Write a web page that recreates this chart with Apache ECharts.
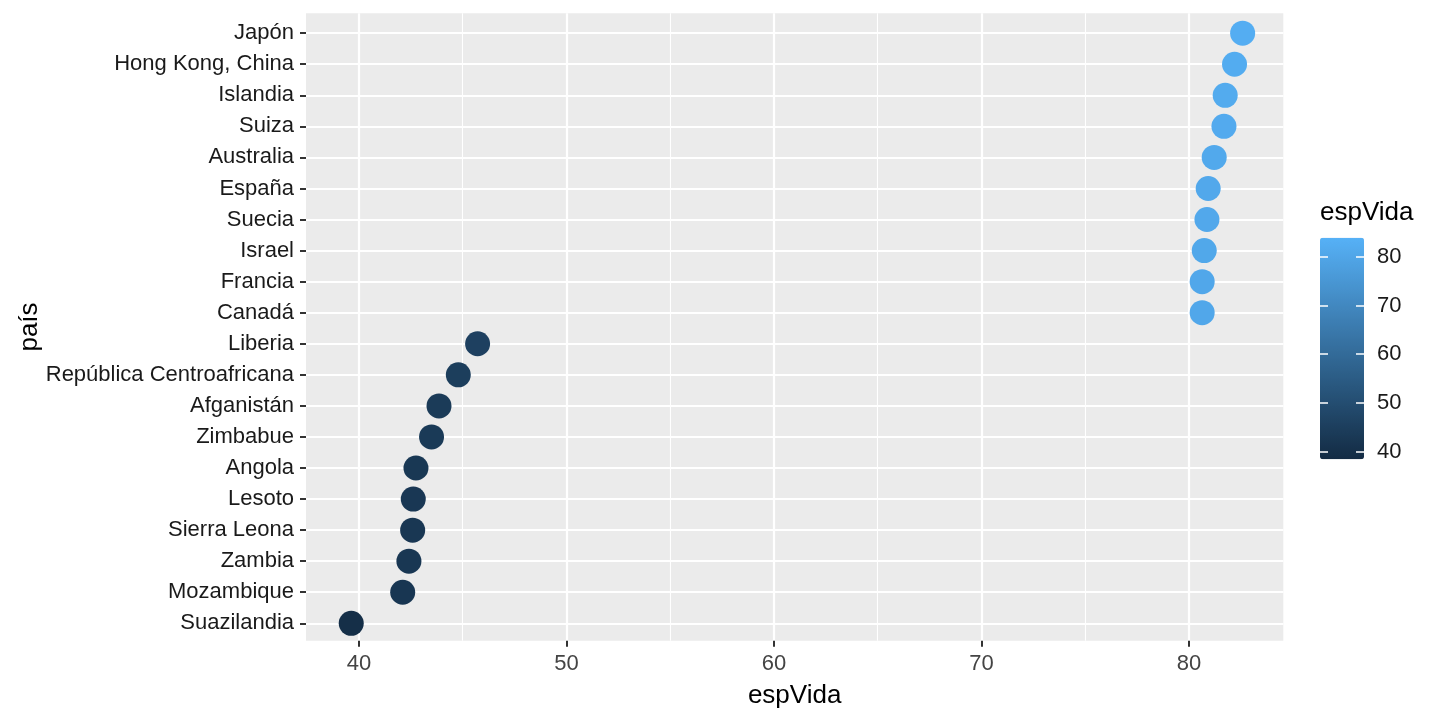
<!DOCTYPE html>
<html>
<head>
<meta charset="utf-8">
<script src="https://cdn.jsdelivr.net/npm/echarts@6/dist/echarts.min.js"></script>
<style>
html,body{margin:0;padding:0;background:#fff;}
#c{width:1440px;height:720px;}
</style>
</head>
<body>
<div id="c"></div>
<script>
// Countries from bottom to top
const countries = ['Suazilandia','Mozambique','Zambia','Sierra Leona','Lesoto','Angola','Zimbabue','Afganistán','República Centroafricana','Liberia','Canadá','Francia','Israel','Suecia','España','Australia','Suiza','Islandia','Hong Kong, China','Japón'];
const espVida = [39.63,42.11,42.41,42.59,42.62,42.75,43.50,43.86,44.79,45.72,80.64,80.64,80.74,80.87,80.93,81.22,81.69,81.75,82.20,82.59];
const xMajorTicks = [40,50,60,70,80];
const xMinorTicks = [45,55,65,75];
const legendTicks = [40,50,60,70,80];

const yIdx = countries.map((_, i) => i);
const FONT = '"Liberation Sans", Arial, Helvetica, sans-serif';

const chart = echarts.init(document.getElementById('c'));
chart.setOption({
  backgroundColor: '#ffffff',
  animation: false,
  textStyle: { fontFamily: FONT },
  title: {
    text: 'espVida',
    left: 1320, top: 200, padding: 0,
    textStyle: { fontSize: 26, fontWeight: 'normal', color: '#000', fontFamily: FONT }
  },
  grid: [
    { left: 306, top: 13.3, width: 977.3, height: 627.4, show: true, backgroundColor: '#EBEBEB', borderWidth: 0, containLabel: false },
    { left: 1320, top: 237.7, width: 44, height: 221.6, show: false, containLabel: false }
  ],
  xAxis: [
    {
      gridIndex: 0, type: 'value', min: 37.45, max: 84.55, position: 'top',
      axisLine: { show: false, onZero: false },
      axisTick: { show: false, customValues: xMinorTicks },
      axisLabel: { show: false, customValues: xMinorTicks },
      splitLine: { show: true, lineStyle: { color: '#ffffff', width: 1.1 } }
    },
    {
      gridIndex: 0, type: 'value', min: 37.45, max: 84.55, position: 'bottom',
      name: 'espVida', nameLocation: 'middle', nameGap: 42,
      nameTextStyle: { fontSize: 26, color: '#000', fontFamily: FONT },
      axisLine: { show: true, onZero: false, lineStyle: { color: 'rgba(0,0,0,0)', width: 0 } },
      axisTick: { show: true, inside: false, length: 6, lineStyle: { color: '#333', width: 2 }, customValues: xMajorTicks },
      axisLabel: { fontSize: 22, color: '#444', margin: 12, customValues: xMajorTicks, fontFamily: FONT },
      splitLine: { show: true, lineStyle: { color: '#ffffff', width: 2.2 } }
    },
    { gridIndex: 1, type: 'value', min: 0, max: 1, show: false, axisLine: { onZero: false } }
  ],
  yAxis: [
    {
      gridIndex: 0, type: 'value', min: -0.56, max: 19.64, position: 'left',
      name: 'país', nameLocation: 'middle', nameGap: 263, nameRotate: 90, nameMoveOverlap: false,
      nameTextStyle: { fontSize: 26, color: '#000', fontFamily: FONT },
      axisLine: { show: false, onZero: false },
      axisTick: { show: true, length: 6, lineStyle: { color: '#333', width: 2 }, customValues: yIdx },
      axisLabel: {
        fontSize: 22, color: '#1a1a1a', margin: 12, customValues: yIdx, fontFamily: FONT,
        formatter: v => countries[Math.round(v)]
      },
      splitLine: { show: true, lineStyle: { color: '#ffffff', width: 2.2 } }
    },
    {
      gridIndex: 1, type: 'value', min: 38.44, max: 83.9, position: 'right', z: 10,
      axisLine: { show: false, onZero: false },
      axisTick: { show: true, inside: true, length: 8, lineStyle: { color: '#ffffff', width: 1.5 }, customValues: legendTicks },
      axisLabel: { show: true, fontSize: 22, color: '#1a1a1a', margin: 13, customValues: legendTicks, fontFamily: FONT },
      splitLine: { show: false }
    },
    {
      gridIndex: 1, type: 'value', min: 38.44, max: 83.9, position: 'left', z: 10,
      axisLine: { show: false, onZero: false },
      axisTick: { show: true, inside: true, length: 8, lineStyle: { color: '#ffffff', width: 1.5 }, customValues: legendTicks },
      axisLabel: { show: false, customValues: legendTicks },
      splitLine: { show: false }
    }
  ],
  visualMap: {
    type: 'continuous',
    min: 38.44, max: 83.9,
    dimension: 0, seriesIndex: 0,
    inRange: { color: ['#132B43', '#56B1F7'] },
    itemWidth: 44, itemHeight: 221.6,
    left: 1320, top: 237.7, padding: 0,
    calculable: false, hoverLink: false,
    orient: 'vertical'
  },
  series: [
    {
      type: 'scatter',
      xAxisIndex: 1, yAxisIndex: 0,
      symbol: 'circle', symbolSize: 25,
      data: espVida.map((v, i) => [v, i]),
      itemStyle: { opacity: 1 },
      z: 5
    }
  ]
});
</script>
</body>
</html>
